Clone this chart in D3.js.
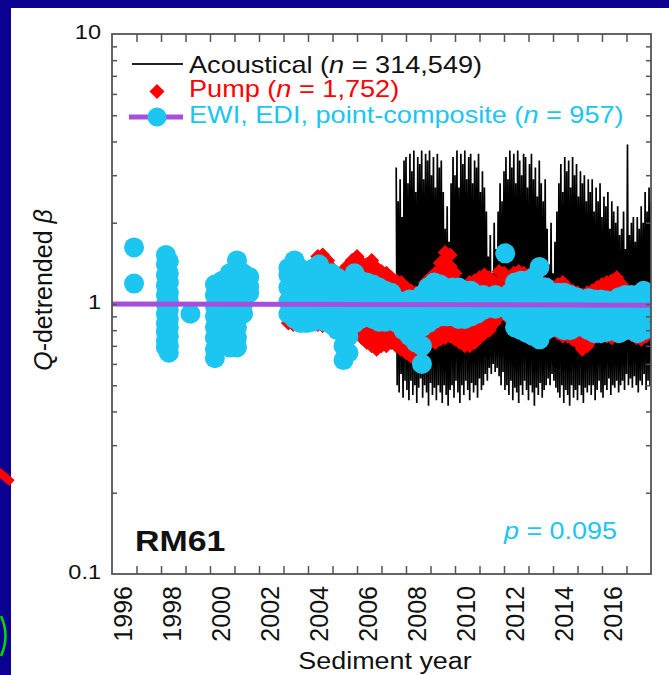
<!DOCTYPE html>
<html><head><meta charset="utf-8">
<script src="https://cdn.jsdelivr.net/npm/d3@7"></script>
<style>body{margin:0;background:#fff;}svg{display:block;}</style>
</head><body>
<svg id="c" width="669" height="675"></svg>
<script>
// ---------- data ----------
const xTickYears = [1996,1998,2000,2002,2004,2006,2008,2010,2012,2014,2016];
const xTickLabels = ["1996","1998","2000","2002","2004","2006","2008","2010","2012","2014","2016"];
const yTickValues = [0.1, 1, 10];
const yTickLabels = ["0.1", "1", "10"];

// Acoustical record: regularly sampled envelope (upper / lower value per sample)
const acStart = 2006.6, acStep = 0.08;
const acHigh = [3.2,2.4,2.9,2.1,3.4,
 3.5,2.8,3.6,3.1,3.7,2.6,3.5,3.3,3.7,2.9,3.6,3.4,3.7,3.0,3.5,2.7,3.6,3.2,3.4,2.6,
 1.9,2.3,1.7,
 2.8,3.5,3.0,3.7,2.7,3.6,3.3,3.7,2.9,3.5,3.6,2.8,3.4,3.2,3.6,2.6,3.1,2.7,2.2,
 1.5,1.8,1.3,2.0,1.6,
 2.2,2.8,2.4,3.1,
 3.5,2.9,3.7,3.2,3.6,2.8,3.7,3.4,3.0,3.6,3.5,2.7,3.3,3.6,2.9,3.2,2.5,3.4,2.8,2.4,2.9,
 1.9,1.4,2.0,1.3,1.7,2.2,
 2.8,3.3,2.6,3.5,3.1,3.4,2.7,3.5,3.0,3.3,2.5,3.1,2.8,3.0,2.4,2.9,
 2.6,2.9,2.2,2.7,2.4,2.8,2.1,2.5,2.3,2.6,1.9,2.4,2.2,2.0,2.3,1.8,
 1.9,2.2,1.6,3.9,1.8,2.0,2.1,1.7,2.1,1.9,2.3,2.0,2.6,2.2,2.7,2.4];
const acLow = [0.5,0.47,0.55,0.45,0.52,
 0.48,0.44,0.52,0.46,0.5,0.43,0.49,0.53,0.45,0.5,0.47,0.42,0.51,0.46,0.49,0.44,0.5,0.47,0.43,0.5,
 0.46,0.42,0.48,
 0.5,0.45,0.52,0.47,0.43,0.5,0.46,0.52,0.48,0.44,0.51,0.47,0.5,0.45,0.53,0.48,0.5,0.55,0.52,
 0.58,0.55,0.6,0.56,0.58,
 0.54,0.5,0.56,0.48,
 0.5,0.46,0.52,0.44,0.49,0.47,0.43,0.5,0.46,0.52,0.48,0.44,0.5,0.47,0.42,0.49,0.46,0.51,0.45,0.48,0.5,
 0.53,0.5,0.55,0.52,0.49,0.47,
 0.45,0.5,0.43,0.48,0.46,0.42,0.5,0.45,0.48,0.44,0.5,0.46,0.43,0.49,0.47,0.5,
 0.46,0.5,0.44,0.48,0.52,0.47,0.45,0.5,0.48,0.53,0.46,0.5,0.49,0.52,0.47,0.5,
 0.52,0.48,0.55,0.5,0.53,0.49,0.54,0.5,0.47,0.52,0.5,0.55,0.48,0.52,0.5,0.53];

// Pump samples (red diamonds): year columns and their values
const pumpYears = [2002.2,2002.4,2002.6,2002.8,2003.0,2003.2,2003.4,2003.6,2003.8,2004.0,2004.2,2004.4,2004.6,2004.8,
 2005.0,2005.2,2005.4,2005.6,2005.8,2006.0,2006.2,2006.4,2006.6,2006.8,2007.0,2007.2,2007.4,2007.6,2007.8,
 2008.0,2008.2,2008.4,2008.6,2008.8,2009.0,2009.2,2009.4,2009.6,2009.8,2010.0,2010.2,2010.4,2010.6,2010.8,
 2011.0,2011.2,2011.4,2011.6,2011.8,2012.0,2012.2,2012.4,2012.6,2012.8,2013.0,2013.2,2013.4,2013.6,2013.8,
 2014.0,2014.2,2014.4,2014.6,2014.8,2015.0,2015.2,2015.4,2015.6,2015.8,2016.0,2016.2,2016.4,2016.6,2016.8,2016.95];
const pumpValues = [
 [0.85,0.92,1.0],[0.84,0.91,1.0],[0.84,0.91,1.08,1.15],[0.85,0.92,1.15,1.25],[0.86,0.93,1.2,1.3],
 [0.85,0.92,1.2,1.3,1.4],[0.84,0.91,1.25,1.37,1.5],[0.83,0.9,1.28,1.4,1.52],[0.84,0.91,1.25,1.35,1.45],
 [0.82,0.89,1.2,1.28,1.35],[0.8,0.87,1.15,1.22,1.3],[0.78,0.85,1.15,1.23,1.32],[0.78,0.85,1.18,1.28,1.38],
 [0.8,0.87,1.2,1.32,1.45],
 [0.78,0.85,1.2,1.32,1.45,1.5],[0.75,0.82,0.88,1.2,1.3,1.42],[0.72,0.78,0.85,1.18,1.28,1.4],
 [0.7,0.76,0.83,1.15,1.25,1.38,1.45],[0.68,0.74,0.8,0.86,1.15,1.25,1.36],[0.7,0.76,0.82,1.12,1.22,1.32],
 [0.7,0.76,0.82,1.12,1.2,1.3],[0.72,0.78,0.84,1.1,1.18,1.25],[0.7,0.76,0.82,1.08,1.15,1.22],
 [0.68,0.74,0.8,1.05,1.12,1.2],[0.66,0.72,0.78,1.02,1.1,1.15],[0.64,0.7,0.76,1.0,1.06,1.12],
 [0.63,0.68,0.74,0.98,1.04,1.1],[0.65,0.7,0.76,1.0,1.06,1.12],[0.7,0.76,0.82,1.08,1.15,1.2],
 [0.72,0.78,0.84,1.12,1.2,1.25],[0.72,0.78,0.84,1.15,1.22,1.3],[0.74,0.8,0.86,1.15,1.25,1.35,1.42],
 [0.75,0.81,0.87,1.15,1.25,1.35,1.45,1.55],[0.76,0.82,0.88,1.15,1.25,1.38,1.52],[0.74,0.8,0.86,1.12,1.2,1.3],
 [0.72,0.78,0.84,1.1,1.18],[0.7,0.76,0.82,1.08,1.15],[0.7,0.76,0.82,1.08,1.15,1.2],[0.72,0.78,0.84,1.1,1.16,1.22],
 [0.75,0.81,0.87,1.1,1.18,1.25],[0.78,0.84,0.9,1.1,1.18,1.28],[0.8,0.86,0.92,1.1,1.18,1.25],[0.85,0.92,1.1,1.2],
 [0.9,0.97,1.05,1.12,1.2,1.32],
 [0.92,1.0,1.08,1.15,1.22,1.3],[0.88,0.95,1.12,1.25],[0.82,0.88,1.12,1.2,1.3],[0.8,0.86,1.14,1.22,1.32],
 [0.78,0.84,1.12,1.2,1.3],[0.76,0.82,1.1,1.18,1.28],[0.75,0.81,1.1,1.18,1.25],[0.76,0.82,1.08,1.15,1.22],
 [0.78,0.84,1.06,1.12,1.2],[0.8,0.86,1.05,1.12,1.18],[0.8,0.86,1.04,1.1,1.15],[0.78,0.84,1.05,1.12,1.18],
 [0.76,0.82,1.06,1.13,1.2],[0.76,0.82,1.05,1.1,1.15],[0.74,0.8,1.0,1.06,1.12],
 [0.72,0.78,0.84,1.0,1.05,1.1],[0.68,0.74,0.8,0.98,1.03,1.08],[0.7,0.76,0.82,1.0,1.05,1.1],[0.74,0.8,1.0,1.06,1.12],
 [0.76,0.82,1.02,1.08,1.15],[0.76,0.82,1.03,1.1,1.18],[0.76,0.82,1.05,1.12,1.2],[0.75,0.81,1.05,1.13,1.22],
 [0.76,0.82,1.06,1.15,1.25],[0.78,0.84,1.05,1.12,1.18],[0.78,0.84,1.02,1.08,1.12],[0.77,0.83,1.0,1.05,1.1],
 [0.75,0.81,0.98,1.05],[0.74,0.8,0.95,1.02],[0.76,0.82,0.88,0.92],[0.78,0.85]];

// EWI, EDI, point-composite samples (cyan circles)
const ewiYears = [1995.9,1997.2,1997.32,1998.2,1999.2,1999.5,1999.8,2000.1,2000.35,2000.6,
 2002.2,2002.45,2002.7,2002.95,2003.2,2003.45,2003.7,2003.95,2004.2,2004.45,2004.65,2004.9,2005.15,2005.4,2005.65,
 2005.9,2006.15,2006.4,2006.65,2006.9,2007.15,2007.4,2007.65,2007.9,2008.15,2008.4,2008.65,2008.9,2009.15,2009.4,
 2009.65,2009.9,2010.15,2010.4,2010.65,2011.05,2011.25,2011.45,2011.7,2011.95,2012.2,2012.45,2012.7,2012.95,
 2013.2,2013.45,2013.7,2013.95,2014.2,2014.45,2014.7,2014.95,2015.2,2015.45,2015.7,2015.95,2016.2,2016.45,2016.7];
const ewiValues = [[1.62,1.19],
 [1.52,1.4,1.28,1.17,1.08,1.0,0.92,0.85,0.79,0.73,0.69],
 [1.44,1.3,1.2,1.1,1.02,0.95,0.88,0.82,0.76,0.7,0.66],
 [0.92],
 [1.18,1.08,0.98,0.9,0.82,0.75,0.68,0.63],
 [1.22,1.1,1.0,0.92,0.84,0.77,0.71],
 [1.3,1.18,1.05,0.95,0.87,0.8,0.74,0.69],
 [1.45,1.32,1.2,1.08,0.98,0.9,0.82,0.75,0.69],
 [1.3,1.2,1.1,1.0,0.92],
 [1.26,1.16,1.1],
 [0.92,1.02,1.15,1.28,1.36],[0.88,1.0,1.15,1.3,1.45],[0.85,0.96,1.08,1.2,1.35],[0.85,0.98,1.1,1.25],
 [0.86,0.98,1.1,1.22,1.35],[0.88,1.0,1.12,1.25,1.4],[0.86,0.98,1.1,1.25],[0.84,0.95,1.08,1.2,1.3],
 [0.8,0.9,1.0,1.12,1.25],[0.62,0.7,0.8,0.9,1.02,1.15],[0.66,0.76,0.88,1.0,1.12],[0.85,0.98,1.1,1.3],
 [0.88,1.0,1.1,1.22],[0.9,1.0,1.1,1.2],[0.88,0.98,1.08,1.18],[0.86,0.96,1.06,1.15],[0.86,0.95,1.05,1.12],
 [0.88,0.96,1.05,1.1],[0.85,0.95,1.03],[0.8,0.9,1.0],[0.76,0.86,0.96,1.04],[0.72,0.82,0.92,1.0],
 [0.6,0.7,0.82,0.95,1.08],[0.85,0.95,1.05,1.15],[0.88,1.0,1.1,1.2],[0.9,1.0,1.1,1.18],[0.9,1.0,1.1],
 [0.9,1.0,1.1,1.15],[0.88,0.98,1.08,1.15],[0.88,0.98,1.06,1.12],[0.9,0.98,1.06,1.12],[0.92,1.0,1.08],
 [0.95,1.02,1.08],[0.97,1.04],[0.96,1.02,1.08],[1.54],[0.93,1.02,1.1],[0.82,0.92,1.02,1.12,1.2],
 [0.8,0.9,1.0,1.1,1.22],[0.78,0.88,0.98,1.1,1.22],[0.76,0.86,0.98,1.1,1.25],[0.74,0.85,0.98,1.15,1.37],
 [0.8,0.92,1.05,1.15],[0.82,0.92,1.02,1.1],[0.82,0.9,1.0,1.1],[0.8,0.9,1.0,1.1],[0.8,0.9,1.0,1.08],
 [0.82,0.9,1.0,1.06],[0.84,0.92,1.0],[0.8,0.88,0.98,1.05],[0.78,0.86,0.95,1.04],[0.78,0.86,0.96,1.04],
 [0.79,0.87,0.96,1.03],[0.8,0.88,0.97],[0.78,0.88,0.98,1.06],[0.8,0.9,1.0,1.08],[0.8,0.9,1.0,1.08],
 [0.78,0.88,1.0,1.08],[0.8,0.92,1.02,1.12]];

// fitted line
const trendYears = [1995, 2017];
const trendValues = [1.0, 0.99];

// ---------- drawing ----------
const FONT = '"Liberation Sans", Arial, Helvetica, sans-serif';
const CYAN = "#1cc6f0", RED = "#ff0000", PURPLE = "#a64fdd", AXIS = "#555";
const svg = d3.select("#c");

// slide surroundings
svg.append("rect").attr("width",669).attr("height",675).attr("fill","#0b0090");
svg.append("rect").attr("x",11).attr("y",8).attr("width",658).attr("height",667).attr("fill","#fff");
svg.append("line").attr("x1",-2).attr("y1",471).attr("x2",12).attr("y2",483).attr("stroke","#ff0000").attr("stroke-width",8);
svg.append("path").attr("d","M1,616 Q10,636 1,656").attr("fill","none").attr("stroke","#00dd00").attr("stroke-width",2.5);

const L = 112, R = 651, T = 34, B = 574;
const x = d3.scaleLinear().domain([1995, 2017]).range([L, R]);
const y = d3.scaleLog().domain([0.1, 10]).range([B, T]);

svg.append("defs").append("clipPath").attr("id","clip").append("rect")
  .attr("x",L).attr("y",T).attr("width",R-L).attr("height",B-T);
const plot = svg.append("g").attr("clip-path","url(#clip)");

// acoustical
const acPts = [];
acHigh.forEach((h,i) => {
  const t = acStart + i*acStep;
  acPts.push([t, h]);
  acPts.push([t + acStep/2, acLow[i]]);
});
plot.append("path").datum(acPts)
  .attr("d", d3.line().x(d=>x(d[0])).y(d=>y(d[1])))
  .attr("fill","none").attr("stroke","#000").attr("stroke-width",1.7).attr("stroke-linejoin","miter").attr("stroke-miterlimit",2);

// pump
const pumpPts = pumpYears.flatMap((t,i) => pumpValues[i].map(v => [t, v]));
const diamond = "M0,-7.5L7.5,0L0,7.5L-7.5,0Z";
plot.selectAll("path.pump").data(pumpPts).join("path").attr("class","pump")
  .attr("d", diamond).attr("transform", d => `translate(${x(d[0])},${y(d[1])})`).attr("fill", RED);

// EWI
const ewiPts = ewiYears.flatMap((t,i) => ewiValues[i].map(v => [t, v]));
plot.selectAll("circle.ewi").data(ewiPts).join("circle").attr("class","ewi")
  .attr("cx", d => x(d[0])).attr("cy", d => y(d[1])).attr("r", 10).attr("fill", CYAN);

// trend
plot.append("path").datum(trendYears.map((t,i)=>[t, trendValues[i]]))
  .attr("d", d3.line().x(d=>x(d[0])).y(d=>y(d[1])))
  .attr("stroke", PURPLE).attr("stroke-width", 5).attr("fill","none");

// axes (inward ticks)
const years = d3.range(1996, 2017);
const minor = [0.2,0.3,0.4,0.5,0.6,0.7,0.8,0.9,1,2,3,4,5,6,7,8,9];
function styleAxis(g){ g.select(".domain").remove(); g.selectAll(".tick line").attr("stroke",AXIS).attr("stroke-width",1.5); g.selectAll(".tick text").remove(); }
svg.append("g").attr("transform",`translate(0,${B})`).call(d3.axisBottom(x).tickValues(years).tickSize(-8).tickSizeOuter(0)).call(styleAxis);
svg.append("g").attr("transform",`translate(0,${T})`).call(d3.axisTop(x).tickValues(years).tickSize(-8).tickSizeOuter(0)).call(styleAxis);
svg.append("g").attr("transform",`translate(${L},0)`).call(d3.axisLeft(y).tickValues(minor).tickSize(-5).tickSizeOuter(0)).call(styleAxis);
svg.append("g").attr("transform",`translate(${R},0)`).call(d3.axisRight(y).tickValues(minor).tickSize(-5).tickSizeOuter(0)).call(styleAxis);
svg.append("rect").attr("x",L).attr("y",T).attr("width",R-L).attr("height",B-T)
  .attr("fill","none").attr("stroke",AXIS).attr("stroke-width",1.8);

// tick labels
svg.selectAll("text.yt").data(yTickValues).join("text").attr("class","yt")
  .attr("transform", d => `translate(101,${y(d)+5}) scale(1.12,1)`)
  .attr("text-anchor","end").attr("font-family",FONT).attr("font-size",21).attr("fill","#111")
  .text((d,i) => yTickLabels[i]);
svg.selectAll("text.xt").data(xTickYears).join("text").attr("class","xt")
  .attr("transform", d => `translate(${x(d)-5},586) rotate(-90)`)
  .attr("text-anchor","end").attr("font-family",FONT).attr("font-size",25).attr("fill","#111")
  .text((d,i) => xTickLabels[i]);

// axis titles
svg.append("text").attr("transform","translate(385,669) scale(1.17,1)").attr("text-anchor","middle")
  .attr("font-family",FONT).attr("font-size",23).attr("fill","#111").text("Sediment year");
const yt = svg.append("text").attr("transform","translate(52,290) rotate(-90)").attr("text-anchor","middle")
  .attr("font-family",FONT).attr("font-size",25).attr("fill","#111");
yt.append("tspan").attr("font-style","italic").text("Q");
yt.append("tspan").text("-detrended ");
yt.append("tspan").attr("font-style","italic").text("β");

// legend
function legendText(yb, color, pre, post){
  const t = svg.append("text").attr("transform",`translate(189,${yb}) scale(1.13,1)`)
    .attr("font-family",FONT).attr("font-size",24).attr("fill",color);
  t.append("tspan").text(pre);
  t.append("tspan").attr("font-style","italic").text("n");
  t.append("tspan").text(post);
}
svg.append("line").attr("x1",132).attr("x2",183).attr("y1",64).attr("y2",64).attr("stroke","#222").attr("stroke-width",2);
legendText(73, "#111", "Acoustical (", " = 314,549)");
svg.append("path").attr("d",diamond).attr("transform","translate(157,91.5)").attr("fill",RED);
legendText(97, RED, "Pump (", " = 1,752)");
svg.append("line").attr("x1",129).attr("x2",183).attr("y1",117).attr("y2",117).attr("stroke",PURPLE).attr("stroke-width",5);
svg.append("circle").attr("cx",157).attr("cy",117).attr("r",9.5).attr("fill",CYAN);
legendText(123, CYAN, "EWI, EDI, point-composite (", " = 957)");

// annotations
svg.append("text").attr("transform","translate(135,551) scale(1.13,1)")
  .attr("font-family",FONT).attr("font-size",30).attr("font-weight","bold").attr("fill","#111").text("RM61");
const pt = svg.append("text").attr("transform","translate(504,539) scale(1.17,1)")
  .attr("font-family",FONT).attr("font-size",23).attr("fill",CYAN);
pt.append("tspan").attr("font-style","italic").text("p");
pt.append("tspan").text(" = 0.095");
</script>
</body></html>
